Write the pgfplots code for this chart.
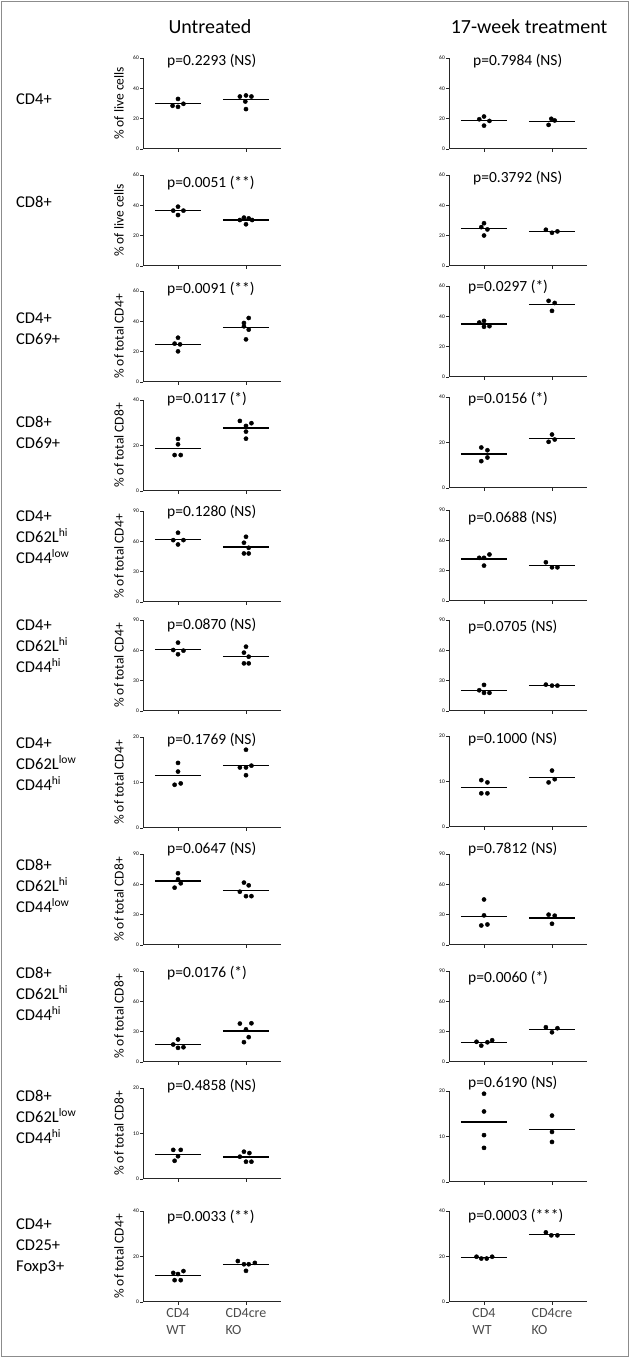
\documentclass[border=0pt]{standalone}
\usepackage{fontspec}
\setmainfont{Carlito}
\usepackage{pgfplots}
\pgfplotsset{compat=1.18}
\pgfplotsset{
 panel/.style={
  scale only axis, width=138pt, height=91pt, anchor=south west,
  xmin=0.485, xmax=2.515, ymin=0,
  axis x line*=bottom, axis y line*=left,
  axis line style={-, line width=1pt, black!85},
  every outer x axis line/.append style={-},
  every outer y axis line/.append style={-},
  xtick={1,2}, xticklabels={},
  tick align=outside, major tick length=3pt,
  tick style={line width=0.8pt, black!85},
  yticklabel style={font=\fontsize{5.5}{6}\selectfont, inner sep=1pt},
  /pgf/number format/assume math mode=true,
  ylabel style={at={(axis description cs:-0.174,0.5)}, anchor=center, font=\fontsize{13.5}{15}\selectfont},
  clip=false,
 },
 dots/.style={only marks, mark=*, mark size=2.1pt, black},
 mean/.style={black, line width=1.3pt, no marks},
}
\tikzset{rowlab/.style={anchor=west, inner sep=0pt, align=left, font=\fontsize{16.5}{21}\selectfont},
 ptext/.style={anchor=west, inner sep=0pt, font=\fontsize{15.5}{17}\selectfont}}
\begin{document}
\begin{tikzpicture}
\useasboundingbox (0,0) rectangle (630pt,1358pt);
\draw[black!45, line width=1.2pt] (1.5pt,1.5pt) rectangle (628.5pt,1356.5pt);
\node[font=\fontsize{20}{24}\selectfont] at (210pt,1331.5pt) {Untreated};
\node[font=\fontsize{20}{24}\selectfont] at (529pt,1331.5pt) {17-week treatment};
% row labels
\node[rowlab] at (16pt,1259pt) {CD4+};
\node[rowlab] at (16pt,1156pt) {CD8+};
\node[rowlab] at (16pt,1029.5pt) {CD4+\\CD69+};
\node[rowlab] at (16pt,925.5pt) {CD8+\\CD69+};
\node[rowlab] at (16pt,821pt) {CD4+\\CD62L\textsuperscript{hi}\\CD44\textsuperscript{low}};
\node[rowlab] at (16pt,712pt) {CD4+\\CD62L\textsuperscript{hi}\\CD44\textsuperscript{hi}};
\node[rowlab] at (16pt,594pt) {CD4+\\CD62L\textsuperscript{low}\\CD44\textsuperscript{hi}};
\node[rowlab] at (16pt,472pt) {CD8+\\CD62L\textsuperscript{hi}\\CD44\textsuperscript{low}};
\node[rowlab] at (16pt,364pt) {CD8+\\CD62L\textsuperscript{hi}\\CD44\textsuperscript{hi}};
\node[rowlab] at (16pt,241pt) {CD8+\\CD62L\textsuperscript{low}\\CD44\textsuperscript{hi}};
\node[rowlab] at (16pt,112pt) {CD4+\\CD25+\\Foxp3+};

%%%%%%%%%%%%%%%% LEFT COLUMN %%%%%%%%%%%%%%%%
% L1
\begin{axis}[panel, at={(143pt,1209pt)}, ymax=60, ytick={0,20,40,60}, ylabel={\% of live cells}]
\addplot[mean] coordinates {(0.66,29.8) (1.34,29.8)};
\addplot[mean] coordinates {(1.66,32.4) (2.34,32.4)};
\addplot[dots] coordinates {(1,33) (0.92,28.5) (1.08,29.8) (1,27.8)};
\addplot[dots] coordinates {(1.91,34.6) (2,35.3) (2.08,34.6) (1.99,31.3) (2,26.3)};
\node[ptext] at (axis description cs:0.174,0.967) {p=0.2293 (NS)};
\end{axis}
% L2
\begin{axis}[panel, at={(143pt,1092pt)}, ymax=60, ytick={0,20,40,60}, ylabel={\% of live cells}]
\addplot[mean] coordinates {(0.66,36.4) (1.34,36.4)};
\addplot[mean] coordinates {(1.66,30.3) (2.34,30.3)};
\addplot[dots] coordinates {(1,39.1) (0.93,36.5) (1.08,36.5) (1,33.6)};
\addplot[dots] coordinates {(1.91,30.3) (1.97,31.9) (2.04,31.4) (2.09,30.3) (2,27.5)};
\node[ptext] at (axis description cs:0.174,0.912) {p=0.0051 (**)};
\end{axis}
% L3
\begin{axis}[panel, at={(143pt,976pt)}, ymax=60, ytick={0,20,40,60}, ylabel={\% of total CD4+}]
\addplot[mean] coordinates {(0.66,24.9) (1.34,24.9)};
\addplot[mean] coordinates {(1.66,36.1) (2.34,36.1)};
\addplot[dots] coordinates {(1,29.2) (0.95,25.3) (1.03,24.8) (1,20.2)};
\addplot[dots] coordinates {(2.04,42.2) (1.97,38.9) (1.97,36.7) (2.04,34.5) (2,28.1)};
\node[ptext] at (axis description cs:0.174,1.022) {p=0.0091 (**)};
\end{axis}
% L4
\begin{axis}[panel, at={(143pt,867pt)}, ymax=40, ytick={0,20,40}, ylabel={\% of total CD8+}]
\addplot[mean] coordinates {(0.66,18.75) (1.34,18.75)};
\addplot[mean] coordinates {(1.66,27.7) (2.34,27.7)};
\addplot[dots] coordinates {(1,22.9) (1,20.5) (0.95,15.8) (1.04,15.8)};
\addplot[dots] coordinates {(1.91,30.8) (2,28.6) (2.08,29.8) (2,26.1) (2,23.0)};
\node[ptext] at (axis description cs:0.174,1.011) {p=0.0117 (*)};
\end{axis}
% L5
\begin{axis}[panel, at={(143pt,756pt)}, ymax=90, ytick={0,30,60,90}, ylabel={\% of total CD4+}]
\addplot[mean] coordinates {(0.66,62.0) (1.34,62.0)};
\addplot[mean] coordinates {(1.66,54.5) (2.34,54.5)};
\addplot[dots] coordinates {(1,68.5) (0.93,61.2) (1.08,61.2) (1,56.9)};
\addplot[dots] coordinates {(2,64.5) (1.97,58.6) (2.04,53.6) (1.97,48.0) (2.04,48.0)};
\node[ptext] at (axis description cs:0.174,0.989) {p=0.1280 (NS)};
\end{axis}
% L6
\begin{axis}[panel, at={(143pt,647pt)}, ymax=90, ytick={0,30,60,90}, ylabel={\% of total CD4+}]
\addplot[mean] coordinates {(0.66,60.9) (1.34,60.9)};
\addplot[mean] coordinates {(1.66,53.8) (2.34,53.8)};
\addplot[dots] coordinates {(1,67.6) (0.93,60.3) (1.08,59.7) (1,56.1)};
\addplot[dots] coordinates {(2,63.6) (1.97,57.7) (2.04,53.7) (1.97,47.1) (2.04,47.1)};
\node[ptext] at (axis description cs:0.174,0.945) {p=0.0870 (NS)};
\end{axis}
% L7
\begin{axis}[panel, at={(143pt,530pt)}, ymax=20, ytick={0,10,20}, ylabel={\% of total CD4+}]
\addplot[mean] coordinates {(0.66,11.5) (1.34,11.5)};
\addplot[mean] coordinates {(1.66,13.8) (2.34,13.8)};
\addplot[dots] coordinates {(1,14.3) (1,12.4) (0.95,9.5) (1.04,9.8)};
\addplot[dots] coordinates {(2,17.2) (1.91,13.3) (2,13.3) (2.08,13.7) (2,11.6)};
\node[ptext] at (axis description cs:0.174,0.967) {p=0.1769 (NS)};
\end{axis}
% L8
\begin{axis}[panel, at={(143pt,413pt)}, ymax=90, ytick={0,30,60,90}, ylabel={\% of total CD8+}]
\addplot[mean] coordinates {(0.66,63.4) (1.34,63.4)};
\addplot[mean] coordinates {(1.66,54.0) (2.34,54.0)};
\addplot[dots] coordinates {(1,71) (1,65) (1.04,61) (0.95,56.7)};
\addplot[dots] coordinates {(1.97,61.7) (2.04,59) (1.91,52.7) (2,48.3) (2.08,48.3)};
\node[ptext] at (axis description cs:0.174,1.055) {p=0.0647 (NS)};
\end{axis}
% L9
\begin{axis}[panel, at={(143pt,296pt)}, ymax=90, ytick={0,30,60,90}, ylabel={\% of total CD8+}]
\addplot[mean] coordinates {(0.66,17.1) (1.34,17.1)};
\addplot[mean] coordinates {(1.66,30.6) (2.34,30.6)};
\addplot[dots] coordinates {(1,22.3) (0.93,17.3) (1,14) (1.08,14.6)};
\addplot[dots] coordinates {(1.91,38) (2.08,38.3) (2,32.3) (2.04,24.6) (1.97,19.6)};
\node[ptext] at (axis description cs:0.174,0.978) {p=0.0176 (*)};
\end{axis}
% L10
\begin{axis}[panel, at={(143pt,179pt)}, ymax=20, ytick={0,10,20}, ylabel={\% of total CD8+}]
\addplot[mean] coordinates {(0.66,5.45) (1.34,5.45)};
\addplot[mean] coordinates {(1.66,4.84) (2.34,4.84)};
\addplot[dots] coordinates {(0.93,6.4) (1.04,6.4) (1,5.0) (0.95,4.0)};
\addplot[dots] coordinates {(1.97,6.0) (2.05,5.7) (1.91,4.9) (2,3.8) (2.08,3.8)};
\node[ptext] at (axis description cs:0.174,1.022) {p=0.4858 (NS)};
\end{axis}
% L11
\begin{axis}[panel, at={(143pt,56pt)}, ymax=40, ytick={0,20,40}, ylabel={\% of total CD4+},
  xticklabels={{CD4\\WT},{CD4cre\\KO}},
  xticklabel style={align=left, font=\fontsize{14}{17}\selectfont, text=black!70}]
\addplot[mean] coordinates {(0.66,11.6) (1.34,11.6)};
\addplot[mean] coordinates {(1.66,16.4) (2.34,16.4)};
\addplot[dots] coordinates {(0.93,12.8) (1,12.3) (1.08,13.6) (0.95,9.6) (1.04,9.6)};
\addplot[dots] coordinates {(1.88,18) (1.97,16.6) (2.04,16.6) (2.13,17.2) (2,13.7)};
\node[ptext] at (axis description cs:0.174,0.934) {p=0.0033 (**)};
\end{axis}

%%%%%%%%%%%%%%%% RIGHT COLUMN %%%%%%%%%%%%%%%%
% R1
\begin{axis}[panel, at={(449pt,1209pt)}, ymax=60, ytick={0,20,40,60}]
\addplot[mean] coordinates {(0.66,18.7) (1.34,18.7)};
\addplot[mean] coordinates {(1.66,18.2) (2.34,18.2)};
\addplot[dots] coordinates {(1,21.4) (0.93,19.6) (1.08,18.5) (1,15.4)};
\addplot[dots] coordinates {(1.99,19.9) (2.04,18.8) (1.95,15.9)};
\node[ptext] at (axis description cs:0.174,0.967) {p=0.7984 (NS)};
\end{axis}
% R2
\begin{axis}[panel, at={(449pt,1092pt)}, ymax=60, ytick={0,20,40,60}]
\addplot[mean] coordinates {(0.66,24.5) (1.34,24.5)};
\addplot[mean] coordinates {(1.66,22.9) (2.34,22.9)};
\addplot[dots] coordinates {(1,28.2) (0.96,25.6) (1.05,24.1) (1,20.1)};
\addplot[dots] coordinates {(1.91,23.9) (2,21.9) (2.08,22.8)};
\node[ptext] at (axis description cs:0.174,0.967) {p=0.3792 (NS)};
\end{axis}
% R3
\begin{axis}[panel, at={(449pt,981pt)}, ymax=60, ytick={0,20,40,60}]
\addplot[mean] coordinates {(0.66,34.9) (1.34,34.9)};
\addplot[mean] coordinates {(1.66,47.8) (2.34,47.8)};
\addplot[dots] coordinates {(0.93,35.9) (1,37.0) (1,33.1) (1.08,33.5)};
\addplot[dots] coordinates {(1.95,50.2) (2.04,48.8) (2,43.6)};
\node[ptext] at (axis description cs:0.138,0.989) {p=0.0297 (*)};
\end{axis}
% R4
\begin{axis}[panel, at={(449pt,870pt)}, ymax=40, ytick={0,20,40}]
\addplot[mean] coordinates {(0.66,14.9) (1.34,14.9)};
\addplot[mean] coordinates {(1.66,21.7) (2.34,21.7)};
\addplot[dots] coordinates {(0.96,17.8) (1.05,16.6) (1.05,13.4) (0.96,11.8)};
\addplot[dots] coordinates {(2,23.5) (1.95,20.3) (2.04,21.3)};
\node[ptext] at (axis description cs:0.138,0.978) {p=0.0156 (*)};
\end{axis}
% R5
\begin{axis}[panel, at={(449pt,757pt)}, ymax=90, ytick={0,30,60,90}]
\addplot[mean] coordinates {(0.66,41.6) (1.34,41.6)};
\addplot[mean] coordinates {(1.66,35.0) (2.34,35.0)};
\addplot[dots] coordinates {(0.93,42.7) (1,42.7) (1.08,46) (1,35)};
\addplot[dots] coordinates {(1.91,38.3) (2,33.3) (2.08,33.3)};
\node[ptext] at (axis description cs:0.138,0.912) {p=0.0688 (NS)};
\end{axis}
% R6
\begin{axis}[panel, at={(449pt,647pt)}, ymax=90, ytick={0,30,60,90}]
\addplot[mean] coordinates {(0.66,20.5) (1.34,20.5)};
\addplot[mean] coordinates {(1.66,25.4) (2.34,25.4)};
\addplot[dots] coordinates {(1,25.8) (0.93,20.5) (1,17.9) (1.08,17.9)};
\addplot[dots] coordinates {(1.91,26.1) (2,25.1) (2.08,25.1)};
\node[ptext] at (axis description cs:0.138,0.923) {p=0.0705 (NS)};
\end{axis}
% R7
\begin{axis}[panel, at={(449pt,531pt)}, ymax=20, ytick={0,10,20}]
\addplot[mean] coordinates {(0.66,8.7) (1.34,8.7)};
\addplot[mean] coordinates {(1.66,10.9) (2.34,10.9)};
\addplot[dots] coordinates {(0.96,10.3) (1.05,9.8) (0.96,7.4) (1.05,7.4)};
\addplot[dots] coordinates {(2,12.4) (2.04,10.5) (1.95,9.8)};
\node[ptext] at (axis description cs:0.138,0.967) {p=0.1000 (NS)};
\end{axis}
% R8
\begin{axis}[panel, at={(449pt,413pt)}, ymax=90, ytick={0,30,60,90}]
\addplot[mean] coordinates {(0.66,28.5) (1.34,28.5)};
\addplot[mean] coordinates {(1.66,26.7) (2.34,26.7)};
\addplot[dots] coordinates {(1,45) (1,29.3) (0.96,19.3) (1.05,20.3)};
\addplot[dots] coordinates {(1.95,30) (2.04,29) (2,21)};
\node[ptext] at (axis description cs:0.138,1.055) {p=0.7812 (NS)};
\end{axis}
% R9
\begin{axis}[panel, at={(449pt,296pt)}, ymax=90, ytick={0,30,60,90}]
\addplot[mean] coordinates {(0.66,19.3) (1.34,19.3)};
\addplot[mean] coordinates {(1.66,32.4) (2.34,32.4)};
\addplot[dots] coordinates {(0.89,20) (1.12,21.5) (1.05,19.5) (0.96,16.2)};
\addplot[dots] coordinates {(1.91,34.4) (2.08,33.4) (2,29.4)};
\node[ptext] at (axis description cs:0.138,0.923) {p=0.0060 (*)};
\end{axis}
% R10
\begin{axis}[panel, at={(449pt,176pt)}, ymax=20, ytick={0,10,20}]
\addplot[mean] coordinates {(0.66,13.2) (1.34,13.2)};
\addplot[mean] coordinates {(1.66,11.5) (2.34,11.5)};
\addplot[dots] coordinates {(1,19.4) (1,15.5) (1,10.3) (1,7.5)};
\addplot[dots] coordinates {(2,14.6) (2,11.0) (2,8.8)};
\node[ptext] at (axis description cs:0.138,1.088) {p=0.6190 (NS)};
\end{axis}
% R11
\begin{axis}[panel, at={(449pt,56pt)}, ymax=40, ytick={0,20,40},
  xticklabels={{CD4\\WT},{CD4cre\\KO}},
  xticklabel style={align=left, font=\fontsize{14}{17}\selectfont, text=black!70}]
\addplot[mean] coordinates {(0.66,19.5) (1.34,19.5)};
\addplot[mean] coordinates {(1.66,29.7) (2.34,29.7)};
\addplot[dots] coordinates {(0.89,19.9) (0.96,19.1) (1.04,19.1) (1.12,19.9)};
\addplot[dots] coordinates {(1.91,30.6) (1.99,29.3) (2.08,29.3)};
\node[ptext] at (axis description cs:0.138,0.945) {p=0.0003 (***)};
\end{axis}
\end{tikzpicture}
\end{document}
